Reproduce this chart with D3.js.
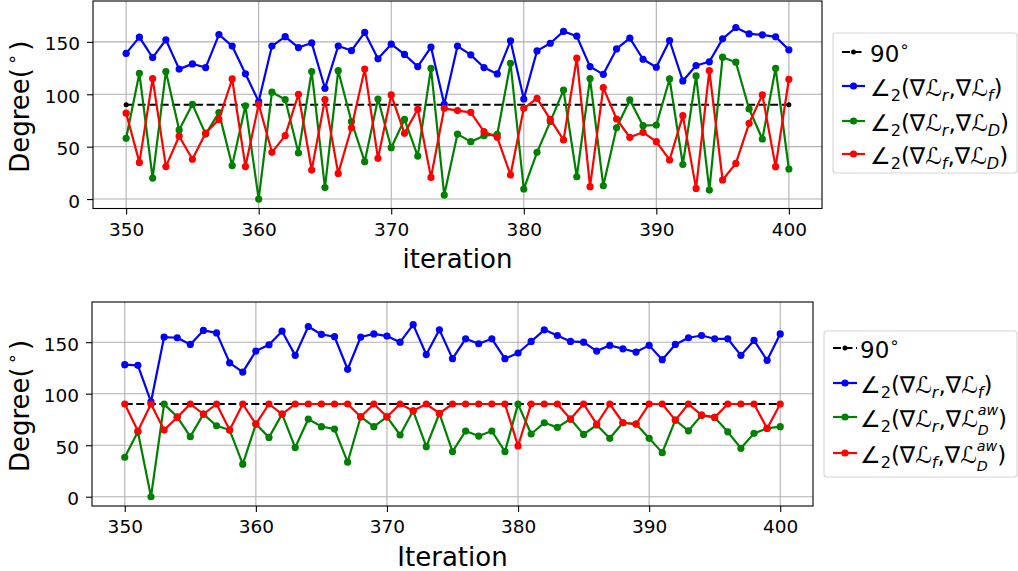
<!DOCTYPE html>
<html>
<head>
<meta charset="utf-8">
<script src="https://cdn.jsdelivr.net/npm/d3@7"></script>
<style>
  body { margin: 0; background: #fff; }
  text { font-family: "DejaVu Sans", sans-serif; fill: #000; }
</style>
</head>
<body>
<svg id="chart" width="1018" height="571"></svg>
<script>
// x categories and ticks
const iterations = d3.range(350, 401);
const xTicks = [350, 360, 370, 380, 390, 400];
const yTicks = [0, 50, 100, 150];
const refAngle = 90;

// top panel: angles between gradients (plain D loss)
const topRF = [139, 154.5, 135, 152, 124, 129, 125.5, 157, 146, 119.5,
  93, 146, 155, 144.6, 149, 105.7, 146, 141.7, 159, 133.8,
  147.8, 138, 126.4, 145, 90.4, 146, 137.6, 125.5, 119.4, 151,
  95.5, 141.4, 148.7, 160, 155.4, 126.4, 119, 143.3, 153.5, 133.4,
  125.8, 151.3, 112.7, 127.4, 131, 152.9, 163.7, 157.6, 156.7, 154.8,
  142.4];
const topRD = [58, 120, 20, 121.7, 66, 90.4, 62, 82.5, 32, 89,
  0, 102, 95, 44, 121.7, 11, 122.5, 74, 35.7, 95.5,
  49, 76, 41, 124.8, 3.8, 62, 54.8, 60.5, 61.8, 129.6,
  9.6, 44.6, 73.9, 104, 21.3, 115, 12.7, 68, 94.6, 70,
  70.7, 114.6, 33, 117.5, 8.6, 135.4, 130.6, 86, 57.3, 124.8,
  28.7];
const topFD = [82, 35, 115, 31, 60, 38, 63, 76, 114.6, 31,
  90.4, 44.6, 60.5, 100, 27.7, 95, 24.5, 68, 124, 38.9,
  99.4, 62.7, 85.7, 20.7, 86.6, 84.4, 82.8, 64.3, 58.9, 23,
  86.6, 96, 76, 56.4, 134.4, 11.8, 106.4, 76.4, 58.9, 63.7,
  54.8, 37.3, 79.6, 10.2, 122.6, 18.2, 34, 72.3, 99.4, 30.9,
  114.3];

// bottom panel: angles with the aw-weighted D loss
const botRF = [128.2, 127.5, 92, 155, 154.3, 147.8, 161.4, 159, 130, 121,
  141.4, 147.5, 160.7, 137.2, 165.2, 157.5, 155.3, 123.7, 155, 158,
  155.9, 150, 167, 138, 162, 134, 153.3, 148.5, 153.3, 134,
  139.5, 150.7, 162, 156.5, 150.7, 150, 141.4, 146.9, 143.6, 140.4,
  146.9, 133, 147.8, 154.3, 156.5, 153.3, 153.3, 137.2, 151.7, 132.4,
  158];
const botRD = [38.3, 63, 0, 89.9, 77.6, 58.3, 80.2, 68.9, 64.7, 31.6,
  70.5, 57.6, 80.2, 47.7, 75.4, 68, 65.7, 33.5, 77.6, 68,
  77.6, 59.9, 83.4, 48.6, 80.8, 43.8, 63.8, 58.9, 63.8, 43.8,
  89.9, 60.9, 71.8, 67.3, 75.4, 60.5, 69.6, 56.7, 71.8, 70.5,
  56.7, 42.8, 74.4, 64, 79.2, 77, 63, 47, 61.5, 66.3,
  68];
const botFD = [90, 63.8, 90, 64.7, 77, 90, 80.2, 90, 64.7, 90,
  70.5, 90, 80.2, 90, 90, 90, 90, 90, 77.6, 90,
  77.6, 90, 83.4, 90, 80.8, 90, 90, 90, 90, 90,
  49.3, 90, 90, 90, 75.4, 90, 70.5, 90, 71.8, 70.5,
  90, 90, 74.4, 90, 79.2, 77, 90, 90, 90, 66.3,
  90];

const colors = { ref: "#000000", rf: "#0000ff", rd: "#008000", fd: "#ff0000" };

// legend labels as [text, mode] pieces; mode: n normal, b subscript, p superscript, s sup over sub
const legTop = [
  [["90", "n"], ["∘", "p"]],
  [["∠", "n"], ["2", "b"], ["(∇ℒ", "n"], ["r", "b"], [",∇ℒ", "n"], ["f", "b"], [")", "n"]],
  [["∠", "n"], ["2", "b"], ["(∇ℒ", "n"], ["r", "b"], [",∇ℒ", "n"], ["D", "b"], [")", "n"]],
  [["∠", "n"], ["2", "b"], ["(∇ℒ", "n"], ["f", "b"], [",∇ℒ", "n"], ["D", "b"], [")", "n"]]
];
const legBot = [
  [["90", "n"], ["∘", "p"]],
  [["∠", "n"], ["2", "b"], ["(∇ℒ", "n"], ["r", "b"], [",∇ℒ", "n"], ["f", "b"], [")", "n"]],
  [["∠", "n"], ["2", "b"], ["(∇ℒ", "n"], ["r", "b"], [",∇ℒ", "n"], ["D", "s", "aw"], [")", "n"]],
  [["∠", "n"], ["2", "b"], ["(∇ℒ", "n"], ["f", "b"], [",∇ℒ", "n"], ["D", "s", "aw"], [")", "n"]]
];

const svg = d3.select("#chart");
const tickFont = 18.5;
const labelFont = 26;
const legFont = 23;

function mathText(sel, pieces, size) {
  let shift = 0;
  pieces.forEach(pc => {
    const [t, mode, sup] = pc;
    let target = 0;
    if (mode === "b") target = 0.24 * size;
    if (mode === "s") target = 0.36 * size;
    if (mode === "p") target = -0.42 * size;
    const small = mode !== "n";
    const ts = sel.append("tspan")
      .attr("dy", target - shift)
      .style("font-size", (small ? size * (mode === "s" ? 0.62 : 0.7) : size) + "px")
      .style("font-style", small && /[a-zA-Z]/.test(t) ? "italic" : "normal")
      .text(t);
    shift = target;
    if (mode === "s") {
      const w = ts.node().getComputedTextLength();
      const up = -0.48 * size;
      sel.append("tspan")
        .attr("dx", -w)
        .attr("dy", up - shift)
        .style("font-size", size * 0.62 + "px")
        .style("font-style", "italic")
        .text(sup);
      shift = up;
    }
    if (small) {
      sel.append("tspan").attr("dx", 1).text("");
    }
  });
  if (shift !== 0) sel.append("tspan").attr("dy", -shift).text("");
}

function drawPanel(p) {
  const x = d3.scaleLinear().domain([347.5, 402.5]).range([p.left, p.right]);
  const y = d3.scaleLinear().domain([-9, 189]).range([p.bottom, p.top]);
  const g = svg.append("g");

  // grid
  g.selectAll(".vgrid").data(xTicks).join("line")
    .attr("x1", d => x(d)).attr("x2", d => x(d))
    .attr("y1", p.top).attr("y2", p.bottom)
    .attr("stroke", "#b0b0b0").attr("stroke-width", 1.1);
  g.selectAll(".hgrid").data(yTicks).join("line")
    .attr("x1", p.left).attr("x2", p.right)
    .attr("y1", d => y(d)).attr("y2", d => y(d))
    .attr("stroke", "#b0b0b0").attr("stroke-width", 1.1);

  // reference line at 90 degrees
  const line = d3.line().x(d => x(d[0])).y(d => y(d[1]));
  const ends = [[iterations[0], refAngle], [iterations[iterations.length - 1], refAngle]];
  g.append("path").attr("d", line(ends))
    .attr("fill", "none").attr("stroke", colors.ref)
    .attr("stroke-width", 2.2).attr("stroke-dasharray", "8,3.5");
  g.selectAll(".refpt").data(ends).join("circle")
    .attr("cx", d => x(d[0])).attr("cy", d => y(d[1])).attr("r", 2.5)
    .attr("fill", colors.ref);

  p.series.forEach(s => {
    const pts = iterations.map((it, i) => [it, s.values[i]]);
    g.append("path").attr("d", line(pts))
      .attr("fill", "none").attr("stroke", s.color)
      .attr("stroke-width", 2.2).attr("stroke-linejoin", "round");
    g.append("g").selectAll("circle").data(pts).join("circle")
      .attr("cx", d => x(d[0])).attr("cy", d => y(d[1])).attr("r", 3.6)
      .attr("fill", s.color);
  });

  // axes
  const ax = g.append("g").attr("transform", `translate(0,${p.bottom})`)
    .call(d3.axisBottom(x).tickValues(xTicks).tickSize(6).tickPadding(8));
  const ay = g.append("g").attr("transform", `translate(${p.left},0)`)
    .call(d3.axisLeft(y).tickValues(yTicks).tickSize(6).tickPadding(7));
  [ax, ay].forEach(a => {
    a.select(".domain").remove();
    a.selectAll("line").attr("stroke", "#000").attr("stroke-width", 1.1);
    a.selectAll("text").style("font-size", tickFont + "px")
      .style("font-family", '"DejaVu Sans", sans-serif').attr("fill", "#000");
  });
  ay.selectAll("text").attr("dy", "0.43em");

  g.append("rect")
    .attr("x", p.left).attr("y", p.top)
    .attr("width", p.right - p.left).attr("height", p.bottom - p.top)
    .attr("fill", "none").attr("stroke", "#000").attr("stroke-width", 1.1);

  // axis labels
  g.append("text")
    .attr("x", (p.left + p.right) / 2).attr("y", p.bottom + 59.5)
    .attr("text-anchor", "middle").style("font-size", labelFont + "px")
    .text(p.xlabel);
  const yl = g.append("text")
    .attr("transform", `translate(29,${(p.top + p.bottom) / 2 + 2}) rotate(-90)`)
    .attr("text-anchor", "middle").style("font-size", labelFont + "px");
  yl.append("tspan").text("Degree(");
  yl.append("tspan").attr("dx", 3).attr("dy", -11).style("font-size", "18px").text("∘");
  yl.append("tspan").attr("dx", 3).attr("dy", 11).text(")");

  // legend
  const L = p.legend;
  const lg = svg.append("g");
  lg.append("rect")
    .attr("x", L.x).attr("y", L.y).attr("width", L.w).attr("height", L.h)
    .attr("rx", 3).attr("fill", "#fff").attr("stroke", "#d5d5d5").attr("stroke-width", 1.1);
  const entries = [
    { color: colors.ref, dash: true, r: 2.5 },
    { color: colors.rf, dash: false, r: 3.6 },
    { color: colors.rd, dash: false, r: 3.6 },
    { color: colors.fd, dash: false, r: 3.6 }
  ];
  entries.forEach((e, i) => {
    const ry = L.rows[i];
    lg.append("line")
      .attr("x1", L.h0).attr("x2", L.h1).attr("y1", ry).attr("y2", ry)
      .attr("stroke", e.color).attr("stroke-width", 2.2)
      .attr("stroke-dasharray", e.dash ? "8,3.5" : null);
    lg.append("circle").attr("cx", (L.h0 + L.h1) / 2).attr("cy", ry).attr("r", e.r)
      .attr("fill", e.color);
    const t = lg.append("text").attr("x", L.tx).attr("y", ry + 9.5)
      .style("font-size", legFont + "px");
    mathText(t, L.labels[i], legFont);
  });
}

drawPanel({
  left: 93, right: 822, top: 1, bottom: 208.5,
  xlabel: "iteration",
  series: [
    { values: topRF, color: colors.rf },
    { values: topRD, color: colors.rd },
    { values: topFD, color: colors.fd }
  ],
  legend: { x: 833, y: 33, w: 184, h: 140, rows: [52, 86, 121, 154], h0: 842, h1: 865, tx: 870, labels: legTop }
});

drawPanel({
  left: 92, right: 813, top: 302, bottom: 506,
  xlabel: "Iteration",
  series: [
    { values: botRF, color: colors.rf },
    { values: botRD, color: colors.rd },
    { values: botFD, color: colors.fd }
  ],
  legend: { x: 824, y: 331, w: 193, h: 146, rows: [348, 383, 417, 453], h0: 833, h1: 857, tx: 860, labels: legBot }
});
</script>
</body>
</html>
